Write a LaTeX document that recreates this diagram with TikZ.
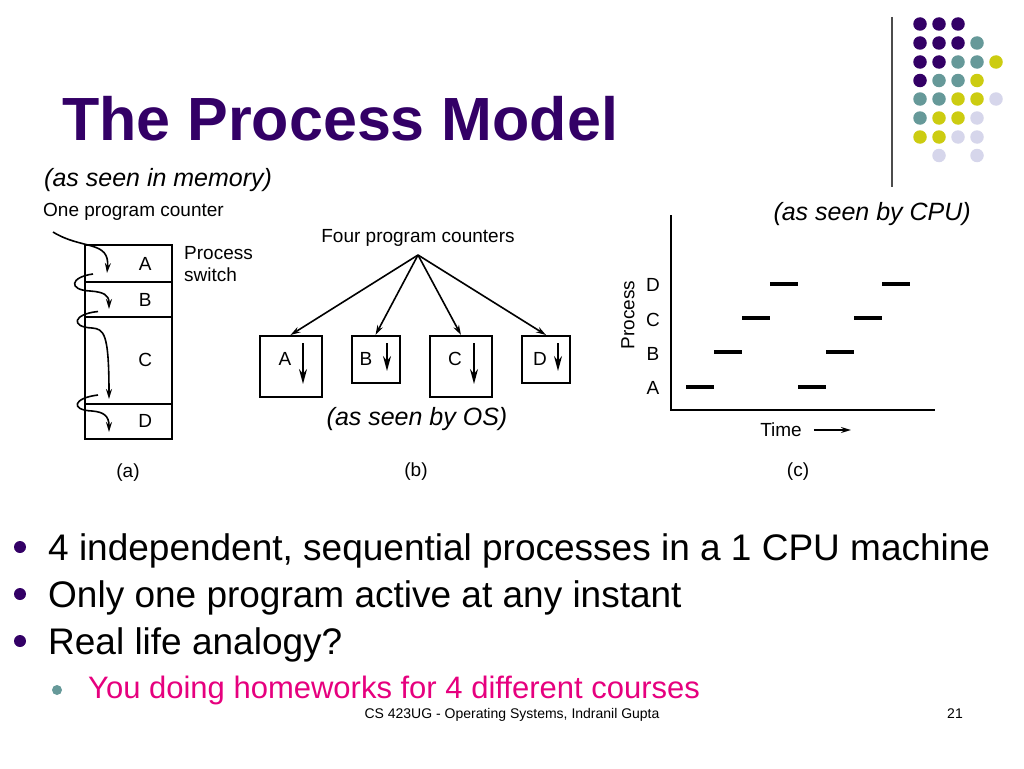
\documentclass[tikz,border=0pt]{standalone}
\usepackage{fontspec}
\setmainfont{Liberation Sans}
\usepackage{xcolor}
\usepackage{tikz}
\usetikzlibrary{arrows.meta,positioning}

\definecolor{slidepurple}{RGB}{51,0,102}
\definecolor{slideteal}{RGB}{102,153,153}
\definecolor{slideolive}{RGB}{204,204,17}
\definecolor{slidelilac}{RGB}{214,214,235}
\definecolor{slidepink}{RGB}{230,0,126}

\tikzset{
  lbl/.style={font=\fontsize{19}{22}\selectfont, inner sep=0pt},
  note/.style={font=\fontsize{25}{28}\selectfont\itshape, inner sep=0pt},
  point/.style={font=\fontsize{37}{40}\selectfont, inner sep=0pt, anchor=base west},
  memcell/.style={draw, line width=2pt, minimum width=87pt, inner sep=0pt, outer sep=0pt},
  cellname/.style={label={[lbl,xshift=17pt]center:#1}},
  pcbox/.style={draw, line width=2pt, inner sep=0pt, anchor=north},
  pc/.style={-{Stealth[length=10pt,width=6pt]}, line width=1.6pt},
  flow/.style={-{Stealth[length=15pt,width=8pt]}, line width=1.6pt},
  run/.style={line width=4pt},
  dot/.style={circle, inner sep=0pt, minimum size=13.5pt}
}

\begin{document}
\begin{tikzpicture}[x=1pt,y=-1pt]
   \useasboundingbox (0,0) rectangle (1024,768);

   % corner decoration
   \draw[black!70, line width=1.3pt] (892,17) -- (892,187);
   \node[dot, fill=slidepurple] at (920,24) {}; \node[dot, fill=slidepurple] at (939,24) {}; \node[dot, fill=slidepurple] at (958,24) {};
   \node[dot, fill=slidepurple] at (920,43) {}; \node[dot, fill=slidepurple] at (939,43) {}; \node[dot, fill=slidepurple] at (958,43) {}; \node[dot, fill=slideteal] at (977,43) {};
   \node[dot, fill=slidepurple] at (920,62) {}; \node[dot, fill=slidepurple] at (939,62) {}; \node[dot, fill=slideteal] at (958,62) {}; \node[dot, fill=slideteal] at (977,62) {}; \node[dot, fill=slideolive] at (996,62) {};
   \node[dot, fill=slidepurple] at (920,80.5) {}; \node[dot, fill=slideteal] at (939,80.5) {}; \node[dot, fill=slideteal] at (958,80.5) {}; \node[dot, fill=slideolive] at (977,80.5) {};
   \node[dot, fill=slideteal] at (920,99) {}; \node[dot, fill=slideteal] at (939,99) {}; \node[dot, fill=slideolive] at (958,99) {}; \node[dot, fill=slideolive] at (977,99) {}; \node[dot, fill=slidelilac] at (996,99) {};
   \node[dot, fill=slideteal] at (920,118) {}; \node[dot, fill=slideolive] at (939,118) {}; \node[dot, fill=slideolive] at (958,118) {}; \node[dot, fill=slidelilac] at (977,118) {};
   \node[dot, fill=slideolive] at (920,137) {}; \node[dot, fill=slideolive] at (939,137) {}; \node[dot, fill=slidelilac] at (958,137) {}; \node[dot, fill=slidelilac] at (977,137) {};
   \node[dot, fill=slidelilac] at (939,155.5) {}; \node[dot, fill=slidelilac] at (977,155.5) {};

   % title
   \node[anchor=base west, inner sep=0pt, text=slidepurple, font=\fontsize{61}{66}\selectfont\bfseries] (title) at (62,140) {The Process Model};
   \node[note, anchor=west] (memnote) at (44,180) {(as seen in memory)};
   \node[note, anchor=east] (cpunote) at (971,214) {(as seen by CPU)};

   % (a) one program counter
   \node[lbl, anchor=west] (onepc) at (43,212) {One program counter};
   \node[memcell, cellname=A, minimum height=37pt, anchor=north] (cellA) at (128.3,245) {};
   \node[memcell, cellname=B, minimum height=35pt, below=0pt of cellA] (cellB) {};
   \node[memcell, cellname=C, minimum height=86.5pt, below=0pt of cellB] (cellC) {};
   \node[memcell, cellname=D, minimum height=35pt, below=0pt of cellC] (cellD) {};
   \node[lbl, anchor=west, align=left] (switch) at (184,264) {Process\\switch};
   \node[lbl] (capA) at (128,473) {(a)};
   \coordinate (pcin) at (53,232);
   \coordinate (leaveA) at (93,274);
   \coordinate (leaveB) at (98,311.5);
   \coordinate (leaveC) at (98,395);
   \draw[pc] (pcin) .. controls (82,250) and (110,240) .. (107,273);
   \draw[pc] (leaveA) .. controls (70,277) and (68,290) .. (90,291) .. controls (104,292) and (109,295) .. (109,309);
   \draw[pc] (leaveB) .. controls (73,314) and (70,327) .. (92,328) .. controls (104,329) and (109,333) .. (109,399);
   \draw[pc] (leaveC) .. controls (73,398) and (70,410) .. (92,411) .. controls (104,412) and (109,416) .. (109,432);

   % (b) four program counters
   \node[lbl] (fourpc) at (418,238) {Four program counters};
   \coordinate (apex) at (418,255);
   \node[pcbox, minimum width=62pt, minimum height=61pt] (procA) at (290.5,335) {};
   \node[pcbox, minimum width=48pt, minimum height=47pt] (procB) at (375.5,335) {};
   \node[pcbox, minimum width=62pt, minimum height=61pt] (procC) at (461,335) {};
   \node[pcbox, minimum width=48pt, minimum height=47pt] (procD) at (546,335) {};
   \node[lbl] (labA) at (285,359) {A};
   \node[lbl] (labB) at (366,359) {B};
   \node[lbl] (labC) at (455,359) {C};
   \node[lbl] (labD) at (540,359) {D};
   \path[pc]
    (apex) edge (procA.north)
           edge (procB.north)
           edge (procC.north)
           edge (procD.north);
   \draw[flow] (303,343) -- (303,384);
   \draw[flow] (387,343) -- (387,371);
   \draw[flow] (474,343) -- (474,384);
   \draw[flow] (558,343) -- (558,371);
   \node[note] (osnote) at (417,419) {(as seen by OS)};
   \node[lbl] (capB) at (416,472) {(b)};

   % (c) one process at a time
   \draw[line width=2pt] (671,215) -- (671,410) -- (935,410);
   \node[lbl, rotate=90] (proclbl) at (628,315) {Process};
   \node[lbl] (rowD) at (653,285) {D};
   \node[lbl] (rowC) at (653,320) {C};
   \node[lbl] (rowB) at (653,354) {B};
   \node[lbl] (rowA) at (653,388) {A};
   \draw[run] (686,387) -- (714,387);  \draw[run] (798,387) -- (826,387);
   \draw[run] (714,352) -- (742,352);  \draw[run] (826,352) -- (854,352);
   \draw[run] (742,318) -- (770,318);  \draw[run] (854,318) -- (882,318);
   \draw[run] (770,284) -- (798,284);  \draw[run] (882,284) -- (910,284);
   \node[lbl] (time) at (781,430) {Time};
   \draw[-{Stealth[length=10pt,width=6pt]}, line width=1.3pt] ([xshift=12pt]time.east) -- ++(37,0);
   \node[lbl] (capC) at (798,472) {(c)};

   % bullets
   \fill[slidepurple] (20,547) circle (6);
   \fill[slidepurple] (20,594) circle (6);
   \fill[slidepurple] (20,641) circle (6);
   \fill[slideteal] (57,690) circle (5);
   \node[point] (pt1) at (48,560) {4 independent, sequential processes in a 1 CPU machine};
   \node[point] (pt2) at (48,607) {Only one program active at any instant};
   \node[point] (pt3) at (48,654) {Real life analogy?};
   \node[point, text=slidepink, font=\fontsize{31}{34}\selectfont] (pt4) at (88,698) {You doing homeworks for 4 different courses};

   % footer
   \node[anchor=base, inner sep=0pt, font=\fontsize{14}{16}\selectfont] (foot) at (512,718) {CS 423UG - Operating Systems, Indranil Gupta};
   \node[anchor=base, inner sep=0pt, font=\fontsize{14}{16}\selectfont] (pageno) at (955,718) {21};
\end{tikzpicture}
\end{document}
